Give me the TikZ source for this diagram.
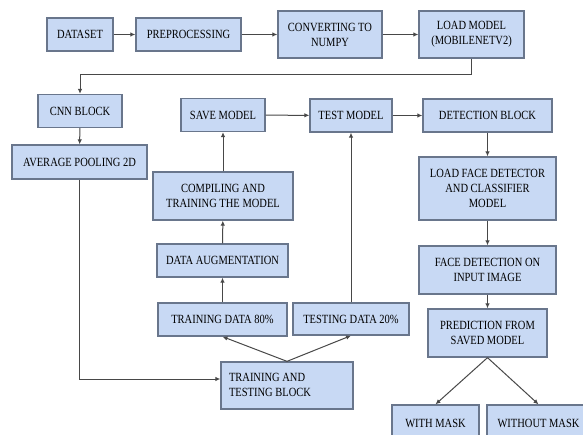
\documentclass[tikz,border=0pt]{standalone}
\usepackage{fontspec}
\setmainfont{Liberation Serif}
\newfontfamily\boxfont[FakeStretch=0.84]{Liberation Serif}
\usepackage{tikz}
\usetikzlibrary{arrows.meta}
\definecolor{boxBlue}{RGB}{200,217,244}
\definecolor{boxEdge}{RGB}{105,118,140}
\definecolor{wireGray}{RGB}{72,72,72}

\begin{document}
\begin{tikzpicture}[x=1pt, y=-1pt,
    blk/.style={draw=boxEdge, line width=1.3pt, fill=boxBlue, align=center,
                inner sep=2pt, font=\boxfont\fontsize{12.5}{15}\selectfont},
    arr/.style={draw=wireGray, line width=1pt, -{Latex[length=5pt,width=4.5pt]}}]

            \useasboundingbox (0,0) rectangle (583,435);
            \clip (0,0) rectangle (583,435);
            \fill[white] (0,0) rectangle (583,435);

            % top row
            \node[blk, minimum width=66, minimum height=33] (dataset) at (80,34.5) {DATASET};
            \node[blk, minimum width=105, minimum height=33] (prep) at (188.5,34.5) {PREPROCESSING};
            \node[blk, minimum width=104, minimum height=47] (numpy) at (330,34.5) {CONVERTING TO\\NUMPY};
            \node[blk, minimum width=105, minimum height=47] (loadmodel) at (471.5,34.5) {LOAD MODEL\\(MOBILENETV2)};
            \coordinate (turnrow) at (0,75);

            % cnn column
            \node[blk, minimum width=84, minimum height=33] (cnn) at (80,111) {CNN BLOCK};
            \node[blk, minimum width=135, minimum height=34] (avgpool) at (79.5,162) {AVERAGE POOLING 2D};

            % training column
            \node[blk, minimum width=84, minimum height=33] (savemodel) at (223,115) {SAVE MODEL};
            \node[blk, minimum width=140, minimum height=48] (compile) at (223,196) {COMPILING AND\\TRAINING THE MODEL};
            \node[blk, minimum width=131, minimum height=33] (augment) at (222.5,260.5) {DATA AUGMENTATION};
            \node[blk, minimum width=129, minimum height=33] (traindata) at (222.5,319.5) {TRAINING DATA 80\%};
            \node[blk, minimum width=132, minimum height=47] (ttblock) at (287,385.5)
                {\makebox[116pt][l]{\begin{tabular}{@{}l@{}}TRAINING AND\\TESTING BLOCK\end{tabular}}};

            % testing column
            \node[blk, minimum width=82, minimum height=33] (testmodel) at (351,115.5) {TEST MODEL};
            \node[blk, minimum width=116, minimum height=32] (testdata) at (351,319) {TESTING DATA 20\%};

            % detection column
            \node[blk, minimum width=129, minimum height=33] (detect) at (487.5,115.5) {DETECTION BLOCK};
            \node[blk, minimum width=137, minimum height=63] (facemodel) at (487.5,188.5) {LOAD FACE DETECTOR\\AND CLASSIFIER\\MODEL};
            \node[blk, minimum width=137, minimum height=48] (facedet) at (487.5,270) {FACE DETECTION ON\\INPUT IMAGE};
            \node[blk, minimum width=119, minimum height=48] (predict) at (487.5,333) {PREDICTION FROM\\SAVED MODEL};
            \node[blk, minimum width=87, minimum height=36] (withmask) at (435.5,423) {WITH MASK};
            \node[blk, minimum width=103, minimum height=36] (withoutmask) at (538.5,423) {WITHOUT MASK};

            % connectors
            \draw[arr] (dataset) -- (prep);
            \draw[arr] (prep) -- (numpy);
            \draw[arr] (numpy) -- (loadmodel);
            \draw[arr] (loadmodel.south) -- (loadmodel.south |- turnrow) -| (cnn.north);
            \draw[arr] (cnn) -- (avgpool);
            \draw[arr] (avgpool.south) |- ([yshift=6.5pt]ttblock.west);
            \draw[arr] (ttblock.north) -- (traindata.south);
            \draw[arr] (ttblock.north) -- (testdata.south);
            \draw[arr] (traindata) -- (augment);
            \draw[arr] (augment) -- (compile);
            \draw[arr] (compile) -- (savemodel);
            \draw[arr] (savemodel) -- (testmodel);
            \draw[arr] (testdata) -- (testmodel);
            \draw[arr] (testmodel) -- (detect);
            \draw[arr] (detect) -- (facemodel);
            \draw[arr] (facemodel) -- (facedet);
            \draw[arr] (facedet) -- (predict);
            \draw[arr] (predict.south) -- (withmask.north);
            \draw[arr] (predict.south) -- (withoutmask.north);

\end{tikzpicture}
\end{document}
